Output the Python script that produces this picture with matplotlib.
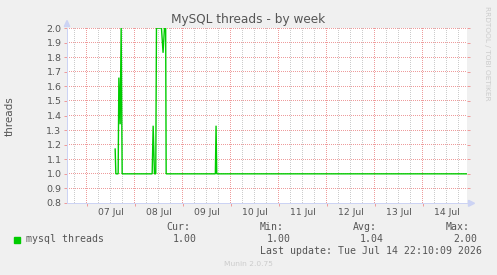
import numpy as np
import matplotlib
matplotlib.use("Agg")
import matplotlib.pyplot as plt
from matplotlib.patches import Polygon
from matplotlib.colors import to_rgba

# ---- data (hours since 07 Jul 00:00) ----
times = [14.25, 14.6, 15.75, 16.1, 16.75, 17.25, 17.75, 32.75, 33.25, 33.9,
         34.55, 34.9, 37.4, 38.2, 38.9, 39.5, 39.75, 64.35, 64.7, 65.05, 190.17]
values = [1.17, 1.0, 1.0, 1.66, 1.34, 2.0, 1.0, 1.0, 1.33, 1.0,
          1.0, 2.0, 2.0, 1.83, 2.0, 2.0, 1.0, 1.0, 1.33, 1.0, 1.0]
day_labels = ["07 Jul", "08 Jul", "09 Jul", "10 Jul", "11 Jul", "12 Jul", "13 Jul", "14 Jul"]
y_ticks = [0.8, 0.9, 1.0, 1.1, 1.2, 1.3, 1.4, 1.5, 1.6, 1.7, 1.8, 1.9, 2.0]
series_name = "mysql threads"
stats_labels = ["Cur:", "Min:", "Avg:", "Max:"]
stats_values = ["1.00", "1.00", "1.04", "2.00"]
last_update = "Last update: Tue Jul 14 22:10:09 2026"
x_start, x_end = -9.83, 190.17

W, H = 497, 275
fig = plt.figure(figsize=(W / 100, H / 100), dpi=100, facecolor="#F0F0F0")

L, R, T, B = 67, 467, 28, 203
ax = fig.add_axes([L / W, 1 - B / H, (R - L) / W, (B - T) / H], facecolor="none")
ax.set_xlim(x_start, x_end)
ax.set_ylim(0.8, 2.0)

TXT = "#555555"
MINOR = "#CCCCCC"
MAJOR = "#EE9C9C"
AXC = "#CCD3F4"
px = 0.72

# pixel-exact dotted grid (white canvas + dots) placed with figimage
nrows, ncols = B - T, R - L
canvas = np.ones((nrows, ncols, 4))
minor_rgba = np.array(to_rgba(MINOR))
major_rgba = np.array(to_rgba(MAJOR))
for h in range(-6, 191, 6):
    if h < x_start:
        continue
    xd = ax.transData.transform((h, 0.8))[0]
    c = int(np.floor(xd)) - L
    if 0 <= c < ncols:
        col = major_rgba if h % 24 == 0 else minor_rgba
        canvas[0::2, c] = col
for yv in y_ticks:
    yd = ax.transData.transform((x_start, yv))[1]
    r = int(np.floor(H - yd)) - T
    if 0 <= r < nrows:
        canvas[r, 0::2] = major_rgba
fig.figimage(canvas, xo=L, yo=H - B, origin="upper", zorder=-1)

ax.plot(times, values, color="#00CC00", lw=1.0, zorder=3, solid_joinstyle="miter")

for s in ["top", "right"]:
    ax.spines[s].set_visible(False)
for s in ["left", "bottom"]:
    ax.spines[s].set_color(AXC)
    ax.spines[s].set_linewidth(px)
    ax.spines[s].set_zorder(4)

noons = [12 + 24 * i for i in range(len(day_labels))]
ax.set_xticks(noons, labels=day_labels)
ax.set_xticks([24 * i for i in range(8)], minor=True)
ax.tick_params(axis="x", which="major", length=0, pad=3.5, labelsize=6.7, labelcolor=TXT)
ax.tick_params(axis="x", which="minor", length=2, width=px, color=MAJOR, direction="out")
ax.set_yticks(y_ticks, labels=[f"{v:.1f}" for v in y_ticks])
ax.tick_params(axis="y", which="major", length=2, width=px, color=MAJOR, direction="out",
               pad=2, labelsize=6.8, labelcolor=TXT, right=True)

# arrows
def fx(x):
    return x / W
def fy(y):
    return 1 - y / H
fig.patches.append(Polygon([(fx(64.3), fy(26.5)), (fx(69.7), fy(26.5)), (fx(67.0), fy(20.5))],
                           closed=True, transform=fig.transFigure, color=AXC, zorder=5))
fig.patches.append(Polygon([(fx(468.5), fy(200.3)), (fx(468.5), fy(206.3)), (fx(474.5), fy(203.3))],
                           closed=True, transform=fig.transFigure, color=AXC, zorder=5))

# texts
fig.text(248.5 / W, fy(19), "MySQL threads - by week", ha="center", va="center",
         fontsize=8.75, color=TXT)
fig.text(fx(10), fy(116), "threads", rotation=90, ha="center", va="center",
         fontsize=7.5, color=TXT)
fig.text(fx(487), fy(53), "RRDTOOL / TOBI OETIKER", rotation=-90, ha="center", va="center",
         fontsize=5.35, color="#CCCCCC")

mono = "DejaVu Sans Mono"
fs = 7.1
fig.patches.append(plt.Rectangle((fx(14), fy(242.7)), 6 / W, 5.4 / H, transform=fig.transFigure,
                                 color="#00CC00", zorder=5))
fig.text(fx(26), fy(239.3), series_name, ha="left", va="center", family=mono, fontsize=fs, color=TXT)
lab_right = [190, 283.3, 376.7, 470]
val_right = [197, 290.7, 384, 477.3]
for lab, val, lr, vr in zip(stats_labels, stats_values, lab_right, val_right):
    fig.text(fx(lr), fy(227), lab, ha="right", va="center", family=mono, fontsize=fs, color=TXT)
    fig.text(fx(vr), fy(239.3), val, ha="right", va="center", family=mono, fontsize=fs, color=TXT)
fig.text(fx(482.3), fy(251), last_update, ha="right", va="center", family=mono, fontsize=fs, color=TXT)
fig.text(fx(248), fy(264), "Munin 2.0.75", ha="center", va="center", fontsize=5.4, color="#CCCCCC")

fig.savefig("out.png", dpi=100, facecolor=fig.get_facecolor())
